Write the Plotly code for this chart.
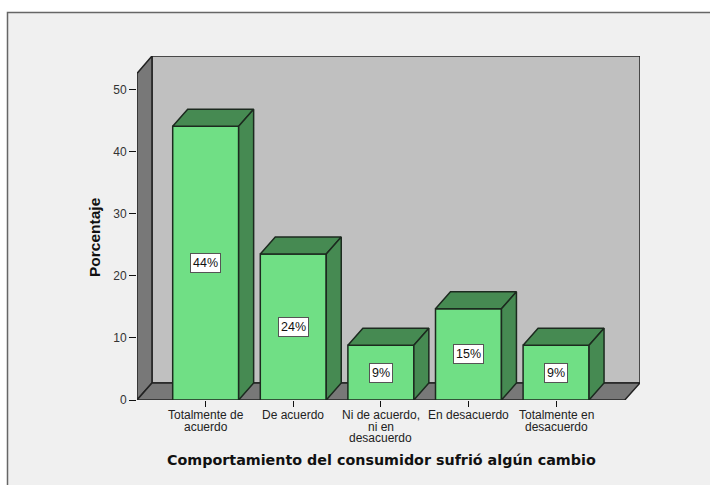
import plotly.graph_objects as go

categories = ["Totalmente de<br>acuerdo", "De acuerdo", "Ni de acuerdo,<br>ni en<br>desacuerdo",
              "En desacuerdo", "Totalmente en<br>desacuerdo"]
values = [44.1, 23.5, 8.8, 14.7, 8.8]
labels = ["44%", "24%", "9%", "15%", "9%"]
y_ticks = [0, 10, 20, 30, 40, 50]

FRONT = "#70DF85"
DARK = "#468A52"
WALL = "#C0C0C0"
SIDE = "#787878"
EDGE = "#1C2A1F"
FONT = "Liberation Sans"

# pixel layout of the plot area
width, height = 710, 485
left, right, top, bottom = 137, 640, 56, 400
x_min, x_max = -0.784, 4.958
y_top = 55.4
wall_top = 52.6
bar_w = 0.753
dx = 0.171
dy = 2.74
x_front_end = 4.784

xs = list(range(len(values)))
fig = go.Figure()

fig.add_trace(go.Bar(x=xs, y=values, width=bar_w, marker=dict(color=FRONT, line=dict(color=EDGE, width=1.5)),
                     showlegend=False, hoverinfo="skip"))

# top and right faces of each bar
for i, v in zip(xs, values):
    x0, x1 = i - bar_w / 2, i + bar_w / 2
    fig.add_trace(go.Scatter(x=[x0, x1, x1 + dx, x0 + dx, x0], y=[v, v, v + dy, v + dy, v],
                             mode="lines", fill="toself", fillcolor=DARK, line=dict(color=EDGE, width=1.5),
                             showlegend=False, hoverinfo="skip"))
    fig.add_trace(go.Scatter(x=[x1, x1 + dx, x1 + dx, x1, x1], y=[0, dy, v + dy, v, 0],
                             mode="lines", fill="toself", fillcolor=DARK, line=dict(color=EDGE, width=1.5),
                             showlegend=False, hoverinfo="skip"))


def px_x(p):
    return (p - left) / (right - left)


def px_y(p):
    return (bottom - p) / (bottom - top)


shapes = [
    # grey panel with its frame, running off the right and bottom of the image
    dict(type="rect", xref="paper", yref="paper", x0=px_x(7.5), x1=px_x(730), y0=px_y(12.5), y1=px_y(510),
         fillcolor="#F0F0F0", line=dict(color="#666666", width=1.5), layer="below"),
    # back wall
    dict(type="rect", x0=x_min + dx, x1=x_max, y0=dy, y1=y_top, fillcolor=WALL,
         line=dict(color="#222222", width=1.5), layer="below"),
    # left wall
    dict(type="path", path=f"M {x_min} 0 L {x_min + dx} {dy} L {x_min + dx} {y_top} L {x_min} {wall_top} Z",
         fillcolor=SIDE, line=dict(color="#222222", width=1.5), layer="below"),
    # floor
    dict(type="path", path=f"M {x_min} 0 L {x_min + dx} {dy} L {x_max} {dy} L {x_front_end} 0 Z",
         fillcolor=SIDE, line=dict(color="#222222", width=1.5), layer="below"),
]

annotations = []
for i, v, t in zip(xs, values, labels):
    annotations.append(dict(x=i, y=v / 2, text=t, showarrow=False, bgcolor="white", bordercolor="#555555",
                            borderwidth=1, borderpad=2, font=dict(family=FONT, size=12.5, color="#111111")))

# category labels, one annotation per line for the tight line pitch
for i, c in zip(xs, categories):
    for n, line in enumerate(c.split("<br>")):
        annotations.append(dict(x=i, y=0, yref="y", text=line, showarrow=False, yanchor="top", yshift=-6 - 11.7 * n,
                                font=dict(family=FONT, size=12, color="#222222")))

# axis titles sit off-centre in the reference, so they are placed by hand
annotations.append(dict(x=px_x(381), y=px_y(460), xref="paper", yref="paper", xanchor="center", yanchor="middle",
                        showarrow=False, text="Comportamiento del consumidor sufrió algún cambio",
                        font=dict(family="DejaVu Sans", size=14.3, color="#111111", weight="bold")))
annotations.append(dict(x=px_x(94), y=px_y(237), xref="paper", yref="paper", xanchor="center", yanchor="middle",
                        showarrow=False, textangle=-90, text="Porcentaje",
                        font=dict(family=FONT, size=15.5, color="#111111", weight="bold")))

fig.update_layout(
    width=width, height=height,
    margin=dict(l=left, r=width - right, t=top, b=height - bottom, pad=0),
    paper_bgcolor="white", plot_bgcolor="rgba(0,0,0,0)",
    shapes=shapes, annotations=annotations, showlegend=False,
    font=dict(family=FONT, size=12, color="#222222"),
)
fig.update_xaxes(range=[x_min, x_max], tickvals=xs, showticklabels=False, ticks="outside", ticklen=6,
                 tickcolor="#111111", tickwidth=1, showgrid=False, zeroline=False, showline=False)
fig.update_yaxes(range=[0, y_top], tickvals=y_ticks, ticks="outside", ticklen=7, tickcolor="#111111", tickwidth=1,
                 showgrid=False, zeroline=False, showline=False, tickfont=dict(family=FONT, size=12, color="#333333"))

fig.write_html("out.html", config=dict(displayModeBar=False), post_script="document.body.style.margin='0';")
